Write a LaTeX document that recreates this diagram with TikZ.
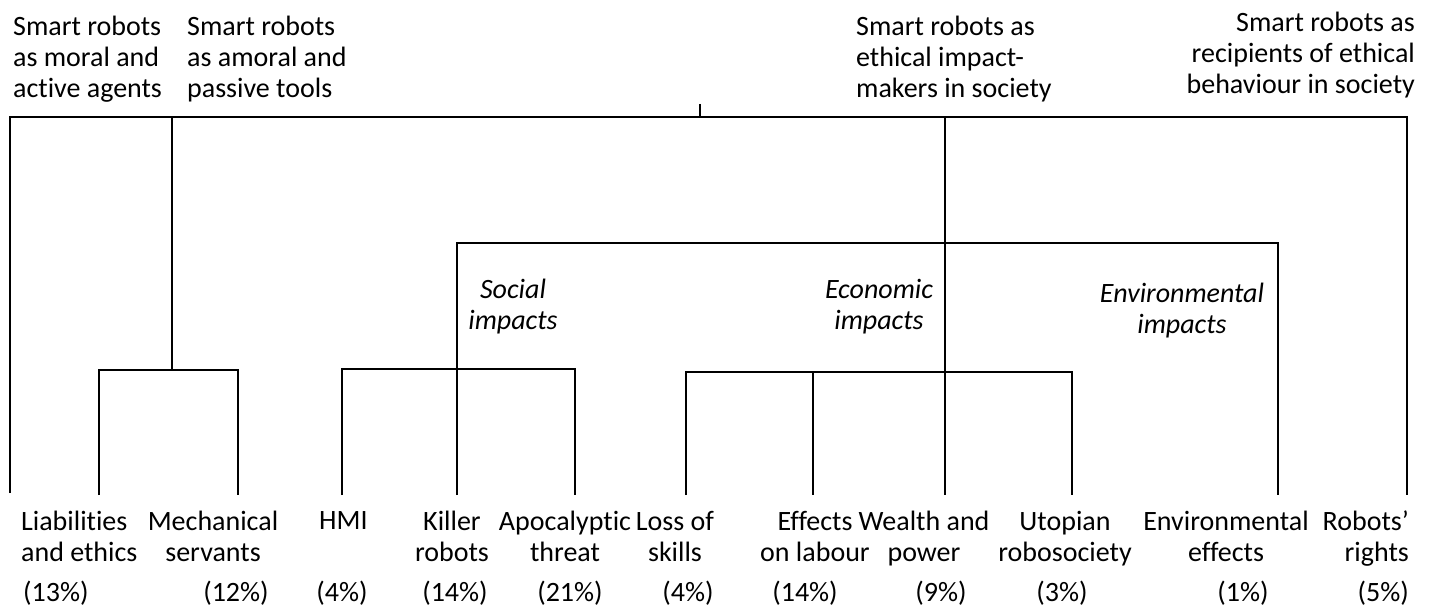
\documentclass[tikz,border=0pt]{standalone}
\usepackage{fontspec}
\setmainfont{Carlito}[Ligatures=NoCommon]
\begin{document}
\begin{tikzpicture}[x=1pt,y=-1pt,line width=2.3pt,
  lbl/.style={font=\fontsize{28}{31}\selectfont,inner sep=0pt},
  cat/.style={font=\fontsize{28}{31}\selectfont\itshape,inner sep=0pt,align=center,anchor=base},
  leaf/.style={lbl,align=center,anchor=base},
  pct/.style={lbl,anchor=base}]
\useasboundingbox (0,0) rectangle (1432,609);
% top labels (anchor = baseline of last line)
\node[lbl,align=left,anchor=base west] (t1) at (12,98) {Smart robots\\as moral and\\active agents};
\node[lbl,align=left,anchor=base west] (t2) at (186,98) {Smart robots\\as amoral and\\passive tools};
\node[lbl,align=left,anchor=base west] (t3) at (855,98) {Smart robots as\\ethical impact-\\makers in society};
\node[lbl,align=right,anchor=base east] (t4) at (1416,94) {Smart robots as\\recipients of ethical\\behaviour in society};
% category labels
\node[cat] (soc) at (513,330) {Social\\impacts};
\node[cat] (eco) at (879,330) {Economic\\impacts};
\node[cat] (env) at (1182,334) {Environmental\\impacts};
% leaves
\node[lbl,align=left,anchor=base west] (l1) at (20,561) {Liabilities\\and ethics};
\node[leaf] (l2) at (213,561) {Mechanical\\servants};
\node[lbl,anchor=base west] (l3) at (318,529) {HMI};
\node[leaf] (l4) at (452,561) {Killer\\robots};
\node[leaf] (l5) at (565,561) {Apocalyptic\\threat};
\node[leaf] (l6) at (675,561) {Loss of\\skills};
\node[leaf] (l7) at (815,561) {Effects\\on labour};
\node[leaf] (l8) at (924,561) {Wealth and\\power};
\node[leaf] (l9) at (1065,561) {Utopian\\robosociety};
\node[leaf] (l10) at (1226,561) {Environmental\\effects};
\node[lbl,align=right,anchor=base east] (l11) at (1410,561) {Robots’\\rights};
% percentages
\node[pct,anchor=base west] (p1) at (22,601) {(13\%)};
\node[pct] (p2) at (236,601) {(12\%)};
\node[pct] (p3) at (342,601) {(4\%)};
\node[pct] (p4) at (455,601) {(14\%)};
\node[pct] (p5) at (570,601) {(21\%)};
\node[pct] (p6) at (688,601) {(4\%)};
\node[pct] (p7) at (805,601) {(14\%)};
\node[pct] (p8) at (941,601) {(9\%)};
\node[pct] (p9) at (1062,601) {(3\%)};
\node[pct] (p10) at (1243,601) {(1\%)};
\node[pct,anchor=base east] (p11) at (1410,601) {(5\%)};
% junction coordinates
\coordinate (root) at (700,104);
\coordinate (rootj) at (700,117);
\coordinate (barL) at (10,117);
\coordinate (barR) at (1407,117);
\coordinate (barA) at (172,117);
\coordinate (barI) at (945,117);
\coordinate (aJ) at (172,370);
\coordinate (aL) at (99,370);
\coordinate (aR) at (238,370);
\coordinate (iL) at (457,243);
\coordinate (iR) at (1278,243);
\coordinate (sL) at (342,369);
\coordinate (sR) at (575,369);
\coordinate (eL) at (686,372);
\coordinate (eM) at (813,372);
\coordinate (eR) at (1072,372);
% leaf ends
\coordinate (e0) at (10,493);
\coordinate (e1) at (99,495);
\coordinate (e2) at (238,495);
\coordinate (e3) at (342,495);
\coordinate (e4) at (457,495);
\coordinate (e5) at (575,495);
\coordinate (e6) at (686,495);
\coordinate (e7) at (813,495);
\coordinate (e8) at (945,495);
\coordinate (e9) at (1072,495);
\coordinate (e10) at (1278,495);
\coordinate (e11) at (1407,495);
% connectors
\draw (root) -- (rootj);
\draw (e0) -- (barL) -- (barR) -- (e11);
\draw (barA) -- (aJ);
\draw (e1) -- (aL) -- (aR) -- (e2);
\draw (barI) -- (e8);
\draw (e4) -- (iL) -- (iR) -- (e10);
\draw (e3) -- (sL) -- (sR) -- (e5);
\draw (e6) -- (eL) -- (eR) -- (e9);
\draw (eM) -- (e7);
\end{tikzpicture}
\end{document}
